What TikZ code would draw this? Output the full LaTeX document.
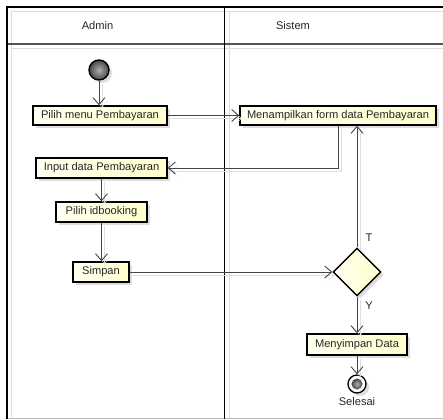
\documentclass[tikz,border=0pt]{standalone}
\usepackage{fontspec}
\setmainfont{Liberation Sans}
\usetikzlibrary{arrows.meta,shapes.geometric,shadows}
\definecolor{boxL}{RGB}{255,255,240}
\definecolor{boxR}{RGB}{255,255,205}
\definecolor{lineC}{RGB}{70,70,70}
\definecolor{shadeC}{RGB}{222,222,222}
\definecolor{ballIn}{RGB}{175,175,175}
\definecolor{ballOut}{RGB}{70,70,70}
\begin{document}
\begin{tikzpicture}[x=1pt,y=-1pt,
  every node/.style={font=\fontsize{11.1}{13}\selectfont, text=black!85},
  actbox/.style={draw=black, line width=1.4pt, left color=boxL, right color=boxR,
    inner sep=0pt, minimum height=19pt, anchor=center,
    drop shadow={shadow xshift=3pt, shadow yshift=-3pt, fill=shadeC, opacity=1}},
  decision/.style={diamond, draw=black, line width=1.4pt, left color=boxL, right color=boxR,
    inner sep=0pt, minimum width=48pt, minimum height=48pt,
    drop shadow={shadow xshift=3pt, shadow yshift=-3pt, fill=shadeC, opacity=1}},
  flow/.style={draw=lineC, line width=0.9pt, -{Straight Barb[length=7pt,width=12pt,line width=0.9pt]},
    preaction={draw=shadeC, transform canvas={shift={(3pt,-3pt)}}}},
  lanebox/.style={draw=black, line width=1.2pt},
  laneshade/.style={draw=shadeC, line width=1pt},
  ballfill/.style={inner color=ballIn, outer color=ballOut}
]
\useasboundingbox (0,0) rectangle (443,419);
\fill[white] (0,0) rectangle (443,419);

% swimlane frame and its light inner shading
\draw[laneshade] (11,419) -- (11,12) -- (443,12);
\draw[laneshade] (229,12) -- (229,419);
\draw[laneshade] (11,48.5) -- (443,48.5);
\draw[draw=gray!55, line width=1pt] (7,418) -- (443,418);
\draw[draw=gray!65!black, line width=1.6pt] (7,44) -- (443,44);
\draw[lanebox] (7,419) -- (7,7) -- (443,7);
\draw[lanebox, line width=1pt] (224.7,7) -- (224.7,419);

% lane titles
\node (hadmin) at (97.5,26) {Admin};
\node (hsistem) at (293,26) {Sistem};

% start node
\fill[shadeC] (102,73) circle (10);
\node[circle, draw=black, line width=1.4pt, ballfill, minimum size=20pt, inner sep=0pt] (start) at (99,70) {};

% activities
\node[actbox, minimum width=134pt] (pm) at (100,115.5) {Pilih menu Pembayaran};
\node[actbox, minimum width=196pt] (mf) at (338,115.5) {Menampilkan form data Pembayaran};
\node[actbox, minimum width=131pt, minimum height=20pt] (inp) at (101.5,168) {Input data Pembayaran};
\node[actbox, minimum width=91pt, minimum height=20pt] (pid) at (101.5,212) {Pilih idbooking};
\node[actbox, minimum width=56pt, minimum height=20pt] (simpan) at (101,272) {Simpan};
\node[decision] (dec) at (357,272) {};
\node[actbox, minimum width=100pt, minimum height=21pt] (ms) at (357,344.5) {Menyimpan Data};

% end node
\fill[shadeC] (360,387) circle (9);
\node[circle, draw=black, line width=1.3pt, fill=white, minimum size=18pt, inner sep=0pt] (end) at (357,384) {};
\node[circle, ballfill, minimum size=11pt, inner sep=0pt] (endin) at (357,384) {};
\node (selesai) at (357,402) {Selesai};

% flows
\draw[flow] (start) -- (start |- pm.north);
\draw[flow] (pm.east) -- (mf.west);
\draw[flow] (mf.south -| 338,0) |- (inp.east);
\draw[flow] (inp) -- (inp |- pid.north);
\draw[flow] (pid) -- (pid |- simpan.north);
\draw[flow] (simpan.east) -- (dec.west);
\draw[flow] (dec.north) -- (dec.north |- mf.south);
\draw[flow] (dec.south) -- (ms.north);
\draw[flow] (ms.south) -- (end.north);

% guard labels
\node (lt) at (369,238) {T};
\node (ly) at (369,306) {Y};
\end{tikzpicture}
\end{document}
